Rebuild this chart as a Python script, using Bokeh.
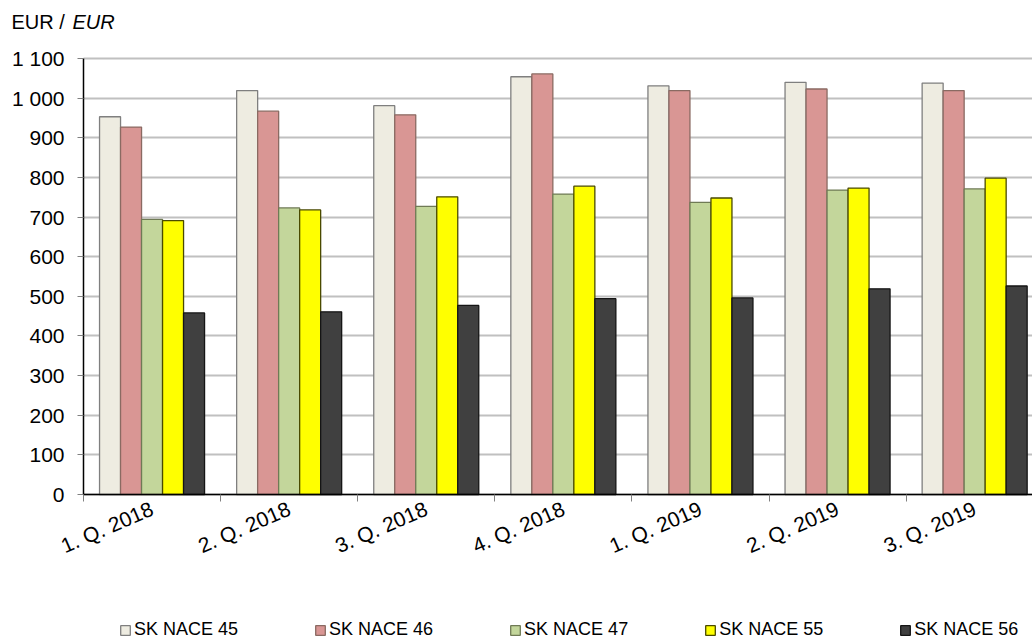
import numpy as np
from bokeh.plotting import figure
from bokeh.models import Range1d, FixedTicker, Legend, LegendItem, Label, Grid
from bokeh.embed import file_html
from bokeh.resources import INLINE

# ---- data ----
quarters = ["1. Q. 2018", "2. Q. 2018", "3. Q. 2018", "4. Q. 2018",
            "1. Q. 2019", "2. Q. 2019", "3. Q. 2019"]
series_names = ["SK NACE 45", "SK NACE 46", "SK NACE 47", "SK NACE 55", "SK NACE 56"]
nace45 = [953, 1019, 981, 1054, 1031, 1040, 1038]
nace46 = [927, 967, 958, 1061, 1019, 1023, 1019]
nace47 = [694, 723, 727, 758, 737, 768, 771]
nace55 = [691, 718, 751, 778, 748, 773, 798]
nace56 = [458, 461, 477, 494, 496, 519, 526]
y_ticks = [0, 100, 200, 300, 400, 500, 600, 700, 800, 900, 1000, 1100]
y_tick_labels = ["0", "100", "200", "300", "400", "500", "600", "700",
                 "800", "900", "1 000", "1 100"]
unit_label = "EUR / "
unit_label_en = "EUR"

series_values = [nace45, nace46, nace47, nace55, nace56]
fills = ["#EEECE1", "#D99694", "#C3D69B", "#FFFF00", "#404040"]
lines = ["#7f7f7f", "#8a6a62", "#6f7a55", "#4a4a00", "#151515"]

FONT = "Liberation Sans"
n = len(quarters)
bw = 0.1532

# layout geometry (pixels)
W, H = 1032, 641
AX_X, AX_Y = 83, 494          # pixel position of the axes origin
PX_PER_CAT = 137.1
PX_PER_UNIT = 436 / 1100.0

x_start = -AX_X / PX_PER_CAT
x_end = (W - AX_X) / PX_PER_CAT
y_start = -(H - AX_Y) / PX_PER_UNIT
y_end = AX_Y / PX_PER_UNIT

p = figure(width=W, height=H, output_backend="svg", toolbar_location=None,
           x_range=Range1d(x_start, x_end), y_range=Range1d(y_start, y_end),
           min_border=0)
p.outline_line_color = None
p.background_fill_color = "white"
p.border_fill_color = "white"

centers = np.arange(n) + 0.5
renderers = []
for k, vals in enumerate(series_values):
    xs = centers + (k - 2) * bw
    r = p.vbar(x=xs, top=vals, bottom=0, width=bw, fill_color=fills[k],
               line_color=lines[k], line_width=1.3)
    renderers.append(r)

# y axis (fixed at x = 0)
p.yaxis.fixed_location = 0
p.yaxis.bounds = (0, 1100)
p.yaxis.ticker = FixedTicker(ticks=y_ticks)
p.yaxis.major_label_overrides = {t: l for t, l in zip(y_ticks, y_tick_labels)}
p.yaxis.major_label_text_font = FONT
p.yaxis.major_label_text_font_size = "21px"
p.yaxis.major_label_text_color = "black"
p.yaxis.major_tick_out = 6
p.yaxis.major_tick_in = 0
p.yaxis.major_tick_line_color = "#808080"
p.yaxis.minor_tick_line_color = None
p.yaxis.axis_line_color = "black"
p.yaxis.axis_line_width = 1.5
p.yaxis.major_label_standoff = 13

# x axis (fixed at y = 0)
p.xaxis.fixed_location = 0
p.xaxis.bounds = (0, x_end)
p.xaxis.ticker = FixedTicker(ticks=list(centers), minor_ticks=list(range(n + 1)))
p.xaxis.major_label_overrides = {float(c): q for c, q in zip(centers, quarters)}
p.xaxis.major_label_orientation = 0.41
p.xaxis.major_label_text_font = FONT
p.xaxis.major_label_text_font_size = "21px"
p.xaxis.major_label_text_color = "black"
p.xaxis.major_tick_out = 0
p.xaxis.major_tick_in = 0
p.xaxis.minor_tick_out = 7
p.xaxis.minor_tick_in = 0
p.xaxis.minor_tick_line_color = "#808080"
p.xaxis.axis_line_color = "black"
p.xaxis.axis_line_width = 1.5
p.xaxis.major_label_standoff = 6

p.xgrid.grid_line_color = None
if "cross_bounds" in Grid.properties():
    p.ygrid.ticker = FixedTicker(ticks=y_ticks)
    p.ygrid.cross_bounds = (0, x_end)
    p.ygrid.grid_line_color = "#c0c0c0"
    p.ygrid.grid_line_width = 2
else:
    p.ygrid.grid_line_color = None
    p.segment(x0=0, x1=x_end, y0=y_ticks[1:], y1=y_ticks[1:],
              line_color="#c0c0c0", line_width=2, level="underlay")

# unit label
p.add_layout(Label(x=(11 - AX_X) / PX_PER_CAT, y=(AX_Y - 21) / PX_PER_UNIT,
                   text=unit_label, text_font=FONT, text_font_size="20px",
                   text_color="black", text_baseline="alphabetic"))
p.add_layout(Label(x=(72 - AX_X) / PX_PER_CAT, y=(AX_Y - 21) / PX_PER_UNIT,
                   text=unit_label_en, text_font=FONT, text_font_size="20px",
                   text_font_style="italic", text_color="black",
                   text_baseline="alphabetic"))

legend = Legend(items=[LegendItem(label=s, renderers=[r]) for s, r in zip(series_names, renderers)],
                orientation="horizontal", location=(119, 1),
                glyph_width=12, glyph_height=12, label_standoff=3, spacing=76,
                padding=0, margin=0, border_line_color=None,
                background_fill_alpha=0, label_text_font=FONT,
                label_text_font_size="18px", label_text_color="black")
p.add_layout(legend)

open("out.html", "w").write(file_html(p, INLINE))
